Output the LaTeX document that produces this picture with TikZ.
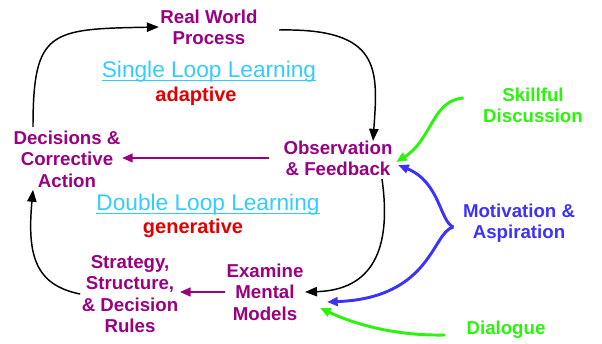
\documentclass[tikz,border=0pt]{standalone}
\usepackage{fontspec}
\setmainfont{Liberation Sans}
\usetikzlibrary{arrows.meta,calc}
\definecolor{plum}{RGB}{153, 0, 130}
\definecolor{leafgreen}{RGB}{40, 245, 10}
\definecolor{iris}{RGB}{60, 50, 255}
\definecolor{skyblue}{RGB}{51, 204, 255}
\definecolor{alarmred}{RGB}{225, 0, 0}

\tikzset{
  stage/.style={color=plum, font=\fontsize{14}{16}\selectfont\bfseries, align=center, inner sep=1pt},
  driver/.style={font=\fontsize{14}{16}\selectfont\bfseries, align=center, inner sep=1pt},
  looptitle/.style={color=skyblue, font=\fontsize{17}{19}\selectfont, inner sep=0pt},
  titlerule/.style={skyblue, line width=0.8pt},
  loopkind/.style={color=alarmred, font=\fontsize{15}{17}\selectfont\bfseries, inner sep=0pt},
  flow/.style={black, line width=1.1pt, -{Triangle[length=9pt, width=7pt]}},
  link/.style={plum, line width=1.5pt, -{Triangle[length=8pt, width=6.5pt]}},
  push/.style={line width=2.2pt, -{Triangle[length=8pt, width=6.5pt]}}
}

\begin{document}
\begin{tikzpicture}[x=0.75pt, y=-0.75pt]
            \useasboundingbox (0, 0) rectangle (602, 343);
            % Stages of the loops
            \node[stage] (realworld) at (209,  27) {Real World\\Process};
            \node[stage] (obs)       at (338, 158) {Observation\\\& Feedback};
            \node[stage] (decide)    at ( 67, 159) {Decisions \&\\Corrective\\Action};
            \node[stage] (strategy)  at (130, 294) {Strategy,\\Structure,\\\& Decision\\Rules};
            \node[stage] (examine)   at (265, 292) {Examine\\Mental\\Models};
            % Loop titles, underlined
            \node[looptitle] (single) at (209,  72) {Single Loop Learning};
            \draw[titlerule] ($(single.base west)+(0,3)$) -- ($(single.base east)+(0,3)$);
            \node[loopkind]  (adapt)  at (196,  96) {adaptive};
            \node[looptitle] (double) at (208, 205) {Double Loop Learning};
            \draw[titlerule] ($(double.base west)+(0,3)$) -- ($(double.base east)+(0,3)$);
            \node[loopkind]  (gener)  at (193, 228) {generative};
            % Drivers
            \node[driver, leafgreen] (skill)  at (533, 105) {Skillful\\Discussion};
            \node[driver, iris]      (motiv)  at (519, 223) {Motivation \&\\Aspiration};
            \node[driver, leafgreen] (dialog) at (506, 330) {Dialogue};
            % Single loop
            \draw[flow] ($(decide.north)+(-34,-2)$) .. controls ( 33,  30) and ( 50,  29) .. (realworld.west);
            \draw[flow] ($(realworld.east)+(20,3)$) .. controls (382,  28) and (378,  70) .. ($(obs.north)+(35,2)$);
            \draw[link, shorten <=10pt] (obs.west) -- (obs.west -| decide.east);
            % Double loop
            \draw[flow] ($(obs.south)+(44,2)$)      .. controls (392, 250) and (372, 290) .. (examine.east);
            \draw[link] (examine.west) -- (examine.west -| strategy.east);
            \draw[flow] (strategy.west)             .. controls ( 35, 285) and ( 27, 255) .. ($(decide.south)+(-34,1)$);
            % Drivers into the loops
            \coordinate (brace) at ($(motiv.west)+(-8,4)$);
            \draw[push, leafgreen] ($(skill.west)+(-18,-7)$) .. controls (432, 100) and (432, 140) .. ($(obs.east)+(2,4)$);
            \draw[push, iris]      (brace)                    .. controls (440, 222) and (440, 182) .. ($(obs.east)+(4,7)$);
            \draw[push, iris]      (brace)                    .. controls (432, 232) and (432, 298) .. ($(examine.east)+(22,10)$);
            \draw[push, leafgreen] ($(dialog.west)+(-20,5)$)  .. controls (390, 336) and (350, 322) .. ($(examine.east)+(15,16)$);
        \end{tikzpicture}
\end{document}
